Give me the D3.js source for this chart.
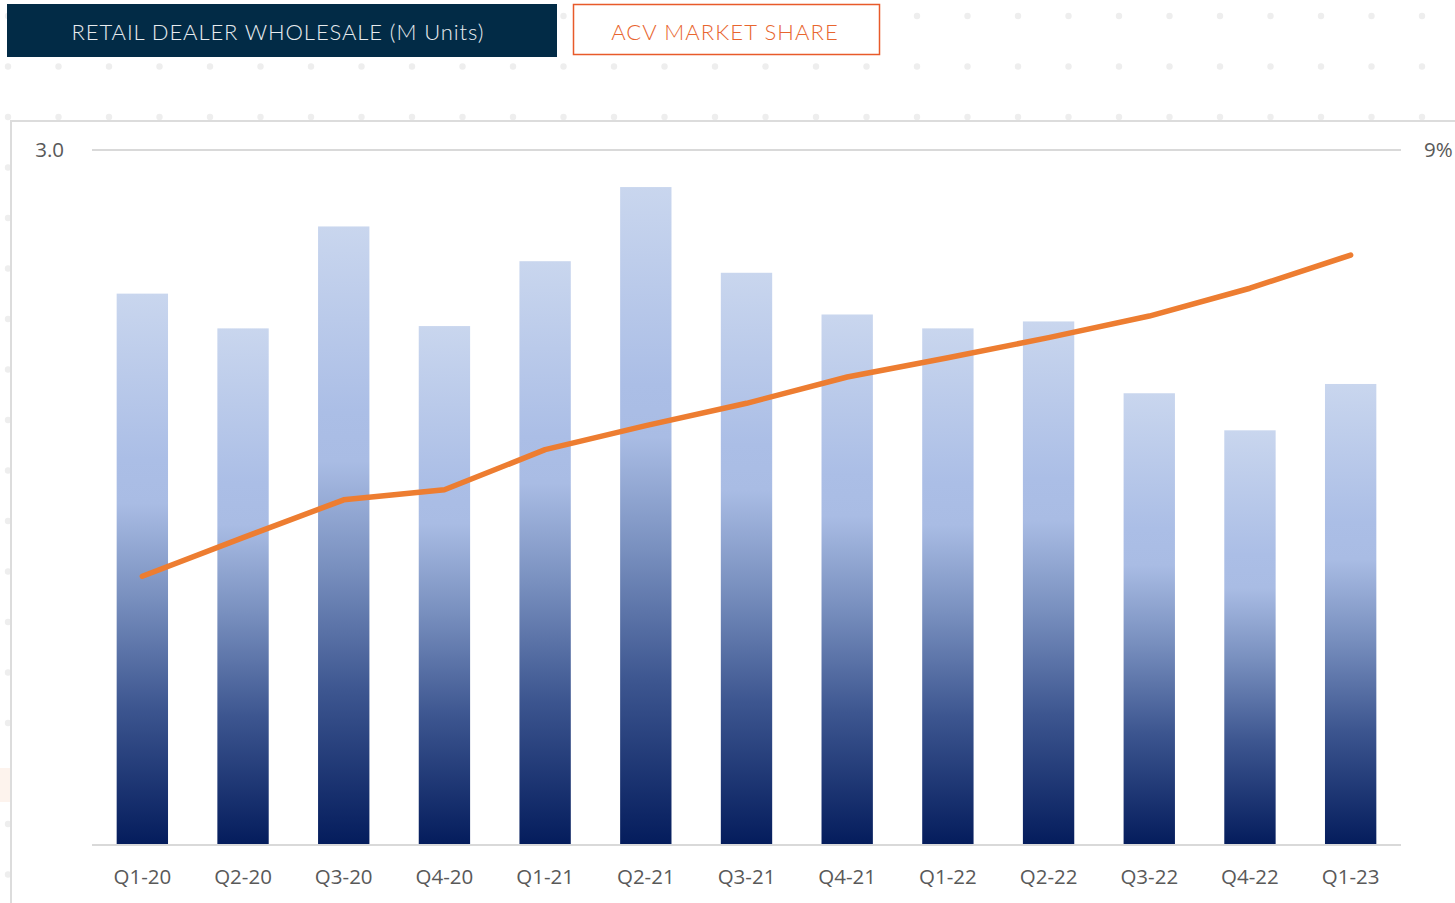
<!DOCTYPE html>
<meta charset="utf-8">
<title>Retail dealer wholesale</title>
<style>
  body { margin: 0; background: #fff; }
  svg { display: block; }
</style>
<div id="viz"></div>
<script src="https://cdnjs.cloudflare.com/ajax/libs/d3/7.8.5/d3.min.js"></script>
<script>

var width = 1455;
var height = 903;

// data
const quarters = ["Q1-20", "Q2-20", "Q3-20", "Q4-20", "Q1-21", "Q2-21", "Q3-21",
                  "Q4-21", "Q1-22", "Q2-22", "Q3-22", "Q4-22", "Q1-23"];
const wholesaleUnits = [2.38, 2.23, 2.67, 2.24, 2.52, 2.84, 2.47, 2.29, 2.23, 2.26, 1.95, 1.79, 1.99];
const acvShare = [0.0348, 0.0398, 0.0447, 0.0460, 0.0512, 0.0543, 0.0572, 0.0606, 0.0631, 0.0657, 0.0685, 0.0721, 0.0764];
const leftTicks = [3];
const rightTicks = [0.09];

var svg = d3.select("#viz")
  .append("svg")
  .attr("width", width)
  .attr("height", height);

// dotted background
var dotsX = d3.range(8, width + 10, 50.5);
var dotsY = d3.range(16, height + 10, 50.5);
var dots = svg.append("g");
dotsY.forEach(function(dy) {
  dots.selectAll(null)
    .data(dotsX)
    .enter().append("circle")
    .attr("cx", d => d)
    .attr("cy", dy)
    .attr("r", 3.2)
    .attr("fill", "#eeeeee");
});

// faint peach glow at left edge
svg.append("rect")
  .attr("x", 0).attr("y", 768).attr("width", 11).attr("height", 34)
  .attr("fill", "#fdf3ed");

// chart panel
svg.append("rect")
  .attr("x", 11).attr("y", 121)
  .attr("width", width).attr("height", height)
  .attr("fill", "#fff")
  .attr("stroke", "#dcdcdc")
  .attr("stroke-width", 2);

// header tabs
var headFont = "Lato, 'Open Sans', sans-serif";

svg.append("rect")
  .attr("x", 7).attr("y", 4).attr("width", 550).attr("height", 53)
  .attr("fill", "#022b46");
svg.append("text")
  .attr("x", 278).attr("y", 31)
  .attr("text-anchor", "middle")
  .attr("dominant-baseline", "central")
  .attr("fill", "#e8ecef")
  .style("font-family", headFont)
  .style("font-weight", 300)
  .style("font-size", "22px")
  .style("letter-spacing", "0.9px")
  .text("RETAIL DEALER WHOLESALE (M Units)");

svg.append("rect")
  .attr("x", 573.5).attr("y", 4.5).attr("width", 306).attr("height", 50)
  .attr("fill", "#fff")
  .attr("stroke", "#e85a2a")
  .attr("stroke-width", 1.5);
svg.append("text")
  .attr("x", 725).attr("y", 31)
  .attr("text-anchor", "middle")
  .attr("dominant-baseline", "central")
  .attr("fill", "#e8652e")
  .style("font-family", headFont)
  .style("font-weight", 300)
  .style("font-size", "22px")
  .style("letter-spacing", "1.1px")
  .text("ACV MARKET SHARE");

// scales
var x = d3.scaleBand()
  .domain(quarters)
  .range([92, 1401])
  .paddingInner(0.49)
  .paddingOuter(0.245);

var yL = d3.scaleLinear().domain([0, 3]).range([845, 150]);
var yR = d3.scaleLinear().domain([0, 0.09]).range([845, 150]);

// bar gradient
var defs = svg.append("defs");
var grad = defs.append("linearGradient")
  .attr("id", "barGrad")
  .attr("x1", 0).attr("y1", 0).attr("x2", 0).attr("y2", 1);
[[0, "#c9d6ee"], [0.3, "#abbee6"], [0.38, "#a9bce4"], [0.55, "#7990bf"],
 [0.75, "#3d5690"], [1, "#041c5c"]].forEach(function(s) {
  grad.append("stop").attr("offset", s[0]).attr("stop-color", s[1]);
});

// gridlines
svg.append("line")
  .attr("x1", 92).attr("x2", 1401)
  .attr("y1", yL(3)).attr("y2", yL(3))
  .attr("stroke", "#d9d9d9").attr("stroke-width", 2);

// bars
svg.append("g")
  .selectAll("rect")
  .data(wholesaleUnits)
  .enter().append("rect")
  .attr("x", (d, i) => x(quarters[i]))
  .attr("y", d => yL(d))
  .attr("width", x.bandwidth())
  .attr("height", d => yL(0) - yL(d))
  .attr("fill", "url(#barGrad)");

// baseline
svg.append("line")
  .attr("x1", 92).attr("x2", 1401)
  .attr("y1", yL(0)).attr("y2", yL(0))
  .attr("stroke", "#d9d9d9").attr("stroke-width", 2);

// share line
var line = d3.line()
  .x((d, i) => x(quarters[i]) + x.bandwidth() / 2)
  .y(d => yR(d));

svg.append("path")
  .datum(acvShare)
  .attr("d", line)
  .attr("fill", "none")
  .attr("stroke", "#ed7d31")
  .attr("stroke-width", 5.5)
  .attr("stroke-linecap", "round")
  .attr("stroke-linejoin", "round");

// axes
var tickFont = "'Open Sans', 'Noto Sans', sans-serif";

var leftAxis = svg.append("g")
  .attr("transform", "translate(92,0)")
  .call(d3.axisLeft(yL).tickValues(leftTicks).tickFormat(d3.format(".1f")).tickSize(0).tickPadding(28));

var rightAxis = svg.append("g")
  .attr("transform", "translate(1401,0)")
  .call(d3.axisRight(yR).tickValues(rightTicks).tickFormat(d3.format(".0%")).tickSize(0).tickPadding(23));

var bottomAxis = svg.append("g")
  .attr("transform", "translate(0,845)")
  .call(d3.axisBottom(x).tickSize(0).tickPadding(24));

[leftAxis, rightAxis, bottomAxis].forEach(function(a) {
  a.select(".domain").remove();
  a.selectAll("text")
    .attr("fill", "#595959")
    .style("font-family", tickFont)
    .style("font-size", "20.5px");
});

</script>
